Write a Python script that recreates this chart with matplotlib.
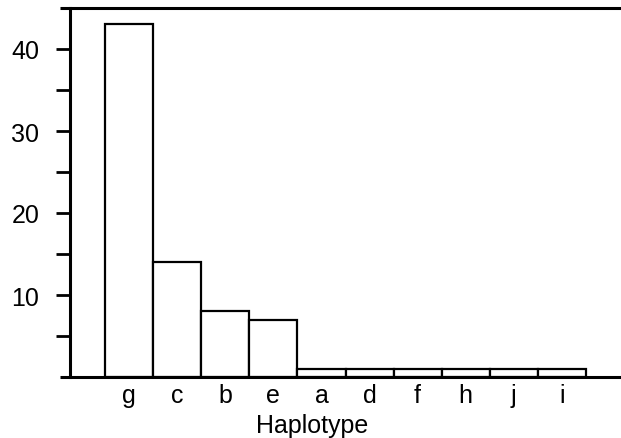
import matplotlib
matplotlib.use("Agg")
import matplotlib.pyplot as plt
import numpy as np

haplotypes = ["g", "c", "b", "e", "a", "d", "f", "h", "j", "i"]
counts = [43, 14, 8, 7, 1, 1, 1, 1, 1, 1]
y_major = [10, 20, 30, 40]
y_minor = [5, 15, 25, 35]

plt.rcParams['font.family'] = ['Liberation Sans', 'DejaVu Sans']

fig = plt.figure(figsize=(6.21, 4.39), dpi=100)
ax = fig.add_axes([70/621, 1-378/439, 1-70/621, (378-9)/439])

x = np.arange(len(haplotypes))
ax.bar(x, counts, width=1.0, color="white", edgecolor="black", linewidth=1.6, zorder=2)

ax.set_xlim(-1.23, 10.23)
ax.set_ylim(0, 45)
ax.set_xticks(x)
ax.set_xticklabels(haplotypes, fontsize=18)
ax.tick_params(axis='x', length=0, pad=4)
ax.set_yticks(y_major)
ax.set_yticks(y_minor, minor=True)
ax.tick_params(axis='y', which='both', length=10, width=2, pad=12, labelsize=18, direction='out')
fig.text(312.5/621, 1-433/439, "Haplotype", fontsize=18, ha='center', va='baseline')

for s in ["top", "right", "bottom"]:
    ax.spines[s].set_visible(False)
ax.spines["left"].set_linewidth(2.2)

ext = 10/551
for yy in (0, 1):
    ax.plot([-ext, 1], [yy, yy], transform=ax.transAxes, color="black",
            linewidth=2.2, clip_on=False, zorder=5, solid_capstyle='butt')

fig.savefig("out.png", dpi=100)
